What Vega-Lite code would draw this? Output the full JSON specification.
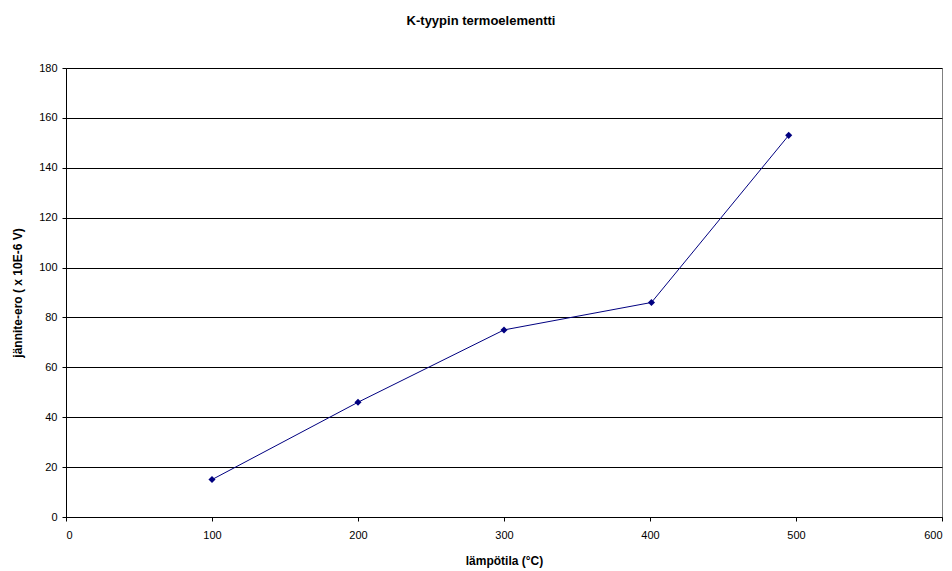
{
  "$schema": "https://vega.github.io/schema/vega-lite/v6.json",
  "width": 876,
  "height": 449,
  "autosize": {"type": "none"},
  "padding": {"left": 66, "top": 68, "right": 10, "bottom": 54},
  "background": "white",
  "config": {
    "font": "Liberation Sans",
    "view": {"stroke": "#808080", "strokeWidth": 1}
  },
  "title": {
    "text": "K-tyypin termoelementti",
    "fontSize": 13,
    "fontWeight": "bold",
    "color": "black",
    "anchor": "middle",
    "offset": 34,
    "dx": -23
  },
  "data": {
    "values": [
      {"t": 100, "v": 15},
      {"t": 200, "v": 46},
      {"t": 300, "v": 75},
      {"t": 401, "v": 86},
      {"t": 495, "v": 153}
    ]
  },
  "encoding": {
    "x": {
      "field": "t", "type": "quantitative",
      "scale": {"domain": [0, 600], "nice": false, "zero": true},
      "axis": {
        "title": "lämpötila (°C)", "values": [0, 100, 200, 300, 400, 500, 600],
        "grid": false, "domainColor": "black", "tickColor": "black", "tickSize": 4,
        "labelFontSize": 11, "labelColor": "black", "labelPadding": 8,
        "titleFontSize": 12, "titleFontWeight": "bold", "titleColor": "black", "titlePadding": 15
      }
    },
    "y": {
      "field": "v", "type": "quantitative",
      "scale": {"domain": [0, 180], "nice": false},
      "axis": {
        "title": "jännite-ero ( x 10E-6 V)", "values": [0, 20, 40, 60, 80, 100, 120, 140, 160, 180],
        "grid": true, "gridColor": "black", "gridOpacity": 1, "gridWidth": 1,
        "domainColor": "black", "tickColor": "black", "tickSize": 4,
        "labelFontSize": 11, "labelColor": "black", "labelPadding": 5,
        "titleFontSize": 12, "titleFontWeight": "bold", "titleColor": "black", "titlePadding": 14
      }
    }
  },
  "layer": [
    {"mark": {"type": "line", "color": "#000080", "strokeWidth": 1}},
    {"mark": {"type": "point", "shape": "diamond", "filled": true, "color": "#000080", "opacity": 1, "size": 50}}
  ]
}
